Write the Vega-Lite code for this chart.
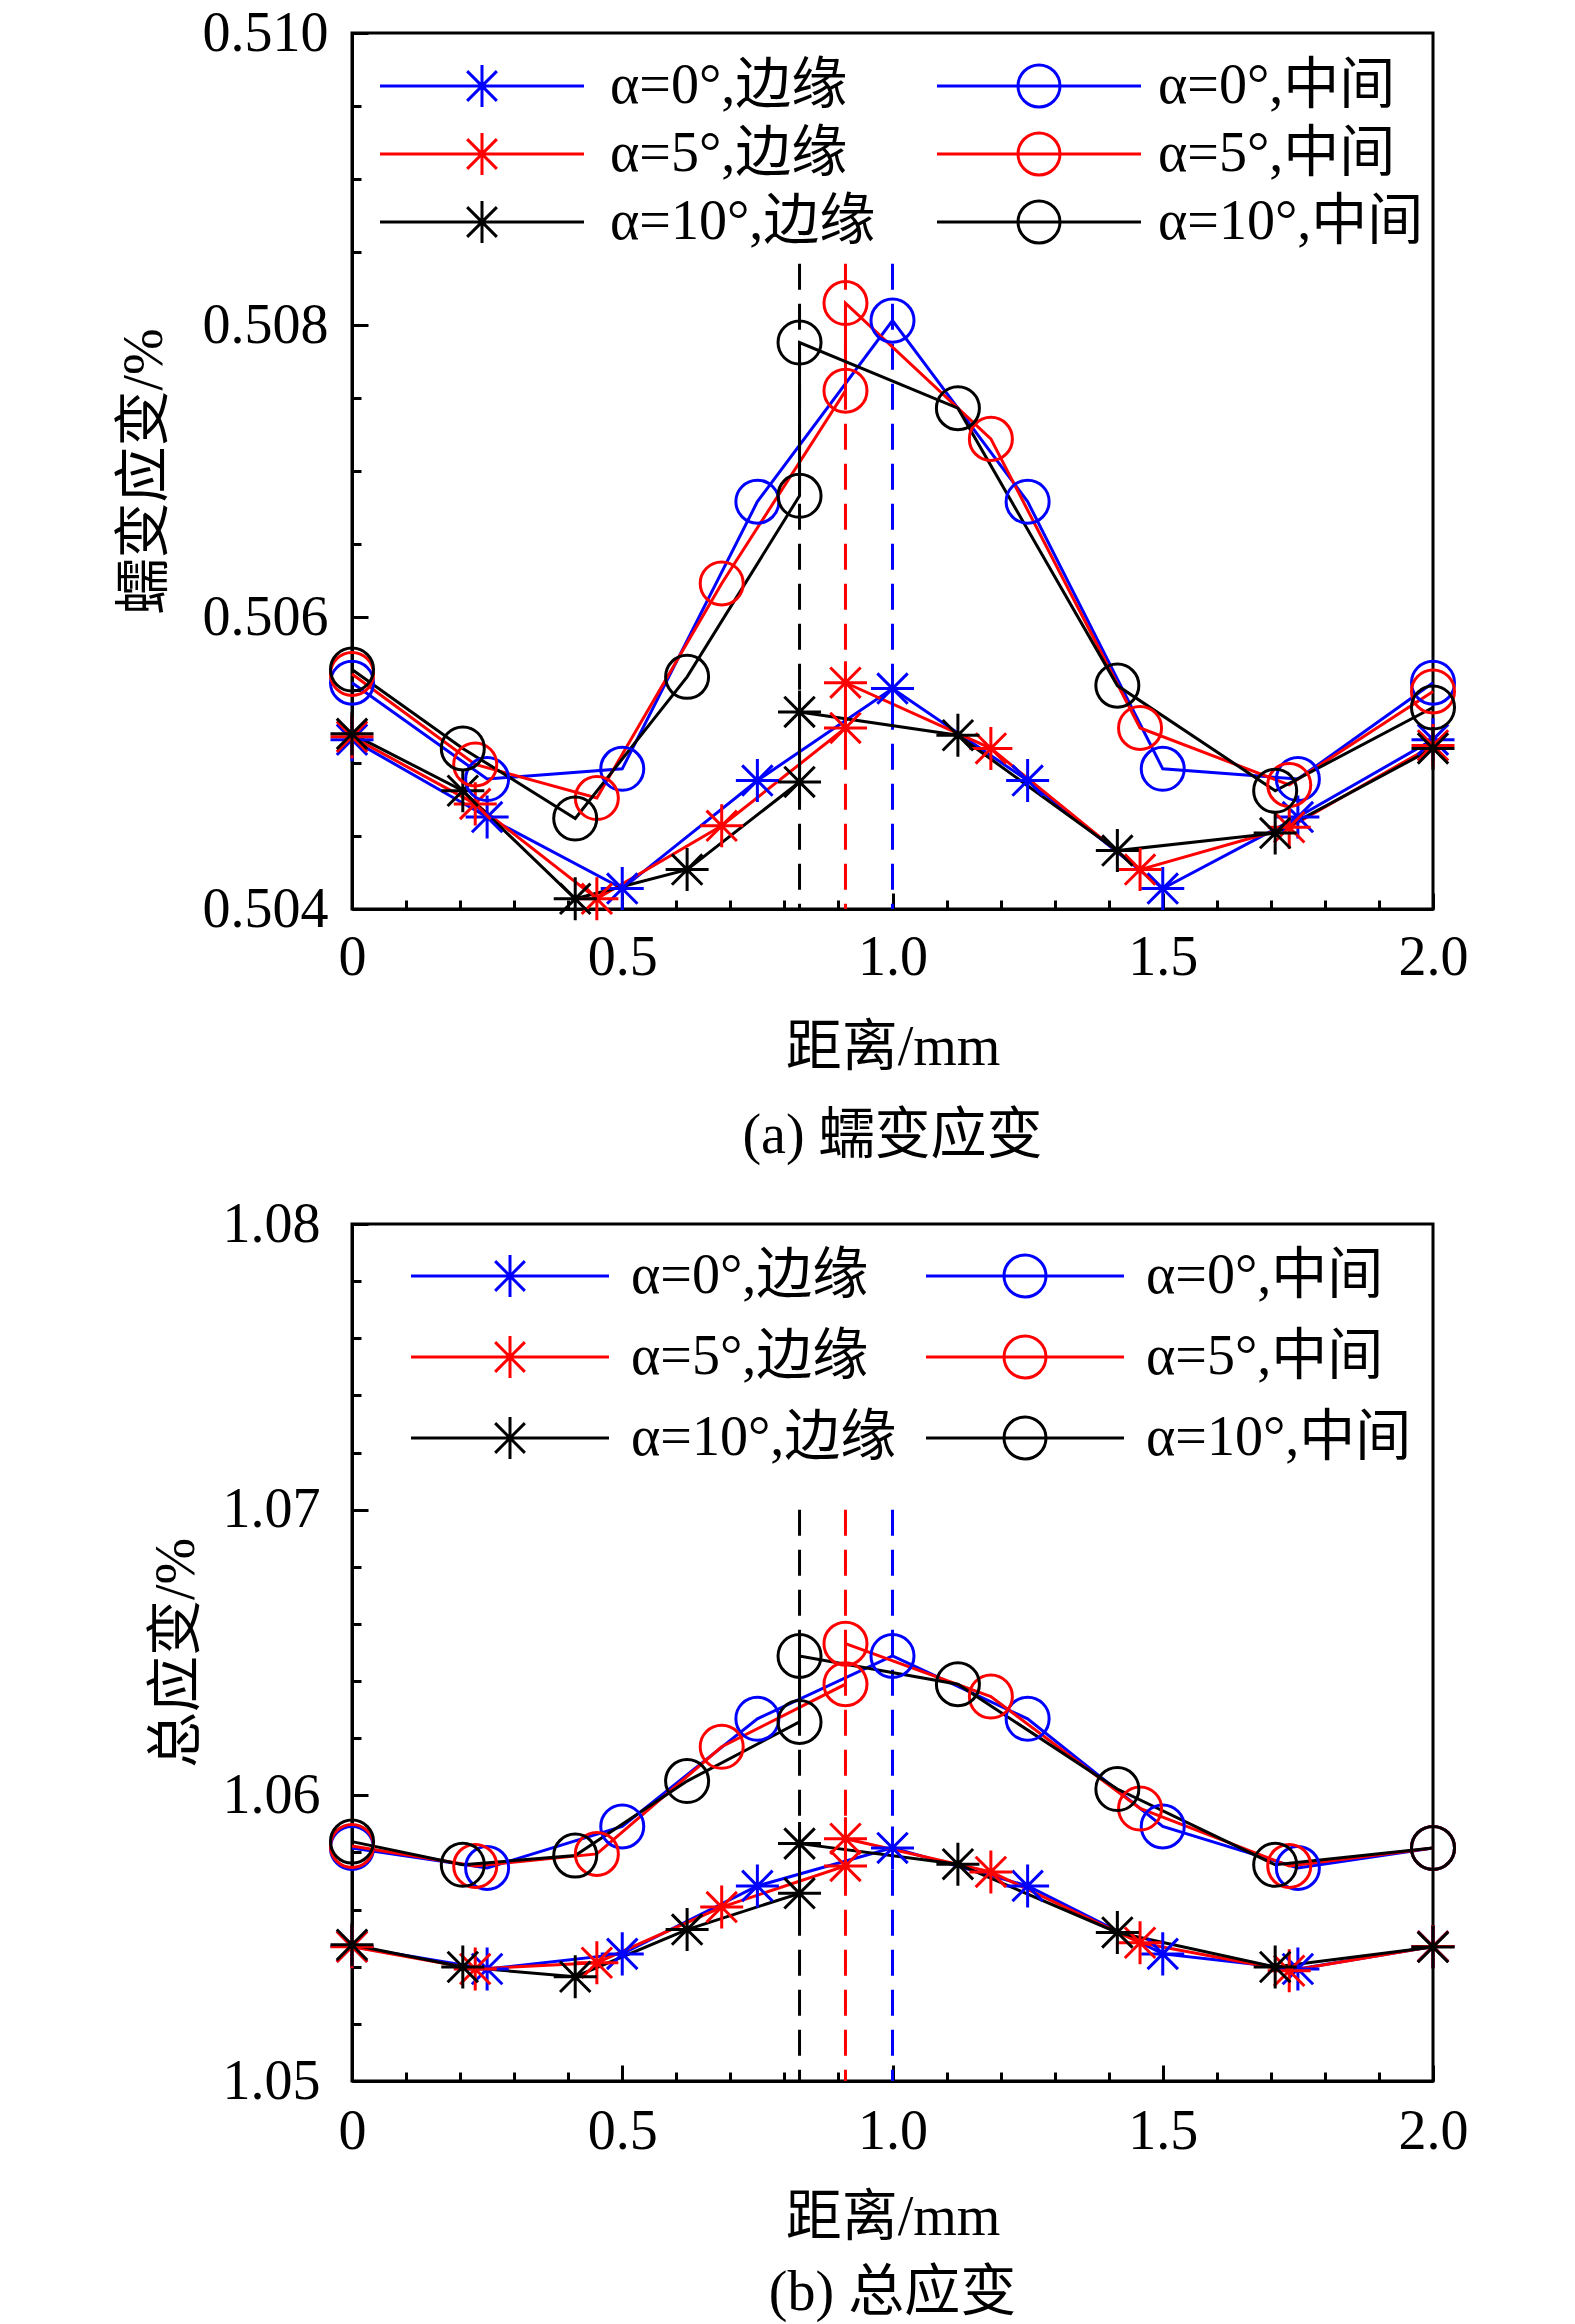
{
  "$schema": "https://vega.github.io/schema/vega-lite/v6.json",
  "background": "white",
  "padding": {"left": 114, "top": 3, "right": 30, "bottom": 0},
  "config": {
    "font": "Liberation Serif, Noto Sans CJK SC",
    "view": {"stroke": "black", "strokeWidth": 3},
    "axis": {
      "grid": false,
      "labelFont": "Liberation Serif",
      "labelFontSize": 56,
      "labelColor": "black",
      "labelFlush": false,
      "labelOverlap": false,
      "titleFont": "Liberation Serif, Noto Sans CJK SC",
      "titleFontSize": 56,
      "titleFontWeight": "normal",
      "titleColor": "black",
      "domainColor": "black",
      "domainWidth": 3,
      "tickColor": "black",
      "tickWidth": 3
    },
    "legend": {
      "labelFont": "Liberation Serif, Noto Sans CJK SC",
      "labelFontSize": 56,
      "labelColor": "black",
      "labelLimit": 0,
      "symbolStrokeWidth": 3,
      "symbolFillColor": "transparent",
      "symbolSize": 1764
    },
    "title": {
      "font": "Liberation Serif, Noto Sans CJK SC",
      "fontSize": 56,
      "fontWeight": "normal",
      "color": "black",
      "anchor": "middle"
    }
  },
  "datasets": {
    "creep": [
      {"series": "α=0°,边缘", "i": 0, "x": 0, "y": 0.50516},
      {"series": "α=0°,边缘", "i": 1, "x": 0.25, "y": 0.50463},
      {"series": "α=0°,边缘", "i": 2, "x": 0.5, "y": 0.50414},
      {"series": "α=0°,边缘", "i": 3, "x": 0.75, "y": 0.50488},
      {"series": "α=0°,边缘", "i": 4, "x": 1.0, "y": 0.50551},
      {"series": "α=0°,边缘", "i": 5, "x": 1.25, "y": 0.50488},
      {"series": "α=0°,边缘", "i": 6, "x": 1.5, "y": 0.50414},
      {"series": "α=0°,边缘", "i": 7, "x": 1.75, "y": 0.50463},
      {"series": "α=0°,边缘", "i": 8, "x": 2.0, "y": 0.50516},
      {"series": "α=0°,中间", "i": 0, "x": 0, "y": 0.50555},
      {"series": "α=0°,中间", "i": 1, "x": 0.25, "y": 0.50489},
      {"series": "α=0°,中间", "i": 2, "x": 0.5, "y": 0.50496},
      {"series": "α=0°,中间", "i": 3, "x": 0.75, "y": 0.50679},
      {"series": "α=0°,中间", "i": 4, "x": 1.0, "y": 0.50803},
      {"series": "α=0°,中间", "i": 5, "x": 1.25, "y": 0.50679},
      {"series": "α=0°,中间", "i": 6, "x": 1.5, "y": 0.50496},
      {"series": "α=0°,中间", "i": 7, "x": 1.75, "y": 0.50489},
      {"series": "α=0°,中间", "i": 8, "x": 2.0, "y": 0.50555},
      {"series": "α=5°,边缘", "i": 0, "x": 0, "y": 0.50518},
      {"series": "α=5°,边缘", "i": 1, "x": 0.228, "y": 0.50472},
      {"series": "α=5°,边缘", "i": 2, "x": 0.453, "y": 0.50407},
      {"series": "α=5°,边缘", "i": 3, "x": 0.684, "y": 0.50457},
      {"series": "α=5°,边缘", "i": 4, "x": 0.913, "y": 0.50524},
      {"series": "α=5°,边缘", "i": 5, "x": 0.913, "y": 0.50555},
      {"series": "α=5°,边缘", "i": 6, "x": 1.182, "y": 0.50510},
      {"series": "α=5°,边缘", "i": 7, "x": 1.458, "y": 0.50427},
      {"series": "α=5°,边缘", "i": 8, "x": 1.734, "y": 0.50456},
      {"series": "α=5°,边缘", "i": 9, "x": 2.0, "y": 0.50512},
      {"series": "α=5°,中间", "i": 0, "x": 0, "y": 0.50561},
      {"series": "α=5°,中间", "i": 1, "x": 0.228, "y": 0.50499},
      {"series": "α=5°,中间", "i": 2, "x": 0.453, "y": 0.50476},
      {"series": "α=5°,中间", "i": 3, "x": 0.684, "y": 0.50623},
      {"series": "α=5°,中间", "i": 4, "x": 0.913, "y": 0.50755},
      {"series": "α=5°,中间", "i": 5, "x": 0.913, "y": 0.50815},
      {"series": "α=5°,中间", "i": 6, "x": 1.182, "y": 0.50722},
      {"series": "α=5°,中间", "i": 7, "x": 1.458, "y": 0.50524},
      {"series": "α=5°,中间", "i": 8, "x": 1.734, "y": 0.50485},
      {"series": "α=5°,中间", "i": 9, "x": 2.0, "y": 0.50549},
      {"series": "α=10°,边缘", "i": 0, "x": 0, "y": 0.50520},
      {"series": "α=10°,边缘", "i": 1, "x": 0.205, "y": 0.50481},
      {"series": "α=10°,边缘", "i": 2, "x": 0.413, "y": 0.50407},
      {"series": "α=10°,边缘", "i": 3, "x": 0.62, "y": 0.50427},
      {"series": "α=10°,边缘", "i": 4, "x": 0.828, "y": 0.50487},
      {"series": "α=10°,边缘", "i": 5, "x": 0.828, "y": 0.50535},
      {"series": "α=10°,边缘", "i": 6, "x": 1.121, "y": 0.50519},
      {"series": "α=10°,边缘", "i": 7, "x": 1.416, "y": 0.50440},
      {"series": "α=10°,边缘", "i": 8, "x": 1.708, "y": 0.50452},
      {"series": "α=10°,边缘", "i": 9, "x": 2.0, "y": 0.50510},
      {"series": "α=10°,中间", "i": 0, "x": 0, "y": 0.50564},
      {"series": "α=10°,中间", "i": 1, "x": 0.205, "y": 0.50510},
      {"series": "α=10°,中间", "i": 2, "x": 0.413, "y": 0.50462},
      {"series": "α=10°,中间", "i": 3, "x": 0.62, "y": 0.50559},
      {"series": "α=10°,中间", "i": 4, "x": 0.828, "y": 0.50683},
      {"series": "α=10°,中间", "i": 5, "x": 0.828, "y": 0.50788},
      {"series": "α=10°,中间", "i": 6, "x": 1.121, "y": 0.50743},
      {"series": "α=10°,中间", "i": 7, "x": 1.416, "y": 0.50553},
      {"series": "α=10°,中间", "i": 8, "x": 1.708, "y": 0.50481},
      {"series": "α=10°,中间", "i": 9, "x": 2.0, "y": 0.50538}
    ],
    "total": [
      {"series": "α=0°,边缘", "i": 0, "x": 0, "y": 1.05471},
      {"series": "α=0°,边缘", "i": 1, "x": 0.25, "y": 1.05392},
      {"series": "α=0°,边缘", "i": 2, "x": 0.5, "y": 1.05445},
      {"series": "α=0°,边缘", "i": 3, "x": 0.75, "y": 1.05683},
      {"series": "α=0°,边缘", "i": 4, "x": 1.0, "y": 1.05816},
      {"series": "α=0°,边缘", "i": 5, "x": 1.25, "y": 1.05683},
      {"series": "α=0°,边缘", "i": 6, "x": 1.5, "y": 1.05445},
      {"series": "α=0°,边缘", "i": 7, "x": 1.75, "y": 1.05392},
      {"series": "α=0°,边缘", "i": 8, "x": 2.0, "y": 1.05471},
      {"series": "α=0°,中间", "i": 0, "x": 0, "y": 1.05816},
      {"series": "α=0°,中间", "i": 1, "x": 0.25, "y": 1.05746},
      {"series": "α=0°,中间", "i": 2, "x": 0.5, "y": 1.05891},
      {"series": "α=0°,中间", "i": 3, "x": 0.75, "y": 1.06268},
      {"series": "α=0°,中间", "i": 4, "x": 1.0, "y": 1.06488},
      {"series": "α=0°,中间", "i": 5, "x": 1.25, "y": 1.06268},
      {"series": "α=0°,中间", "i": 6, "x": 1.5, "y": 1.05891},
      {"series": "α=0°,中间", "i": 7, "x": 1.75, "y": 1.05746},
      {"series": "α=0°,中间", "i": 8, "x": 2.0, "y": 1.05816},
      {"series": "α=5°,边缘", "i": 0, "x": 0, "y": 1.05470},
      {"series": "α=5°,边缘", "i": 1, "x": 0.228, "y": 1.05392},
      {"series": "α=5°,边缘", "i": 2, "x": 0.453, "y": 1.05414},
      {"series": "α=5°,边缘", "i": 3, "x": 0.684, "y": 1.05609},
      {"series": "α=5°,边缘", "i": 4, "x": 0.913, "y": 1.05753},
      {"series": "α=5°,边缘", "i": 5, "x": 0.913, "y": 1.05848},
      {"series": "α=5°,边缘", "i": 6, "x": 1.182, "y": 1.05732},
      {"series": "α=5°,边缘", "i": 7, "x": 1.458, "y": 1.05484},
      {"series": "α=5°,边缘", "i": 8, "x": 1.734, "y": 1.05386},
      {"series": "α=5°,边缘", "i": 9, "x": 2.0, "y": 1.05471},
      {"series": "α=5°,中间", "i": 0, "x": 0, "y": 1.05823},
      {"series": "α=5°,中间", "i": 1, "x": 0.228, "y": 1.05753},
      {"series": "α=5°,中间", "i": 2, "x": 0.453, "y": 1.05795},
      {"series": "α=5°,中间", "i": 3, "x": 0.684, "y": 1.06170},
      {"series": "α=5°,中间", "i": 4, "x": 0.913, "y": 1.06389},
      {"series": "α=5°,中间", "i": 5, "x": 0.913, "y": 1.06531},
      {"series": "α=5°,中间", "i": 6, "x": 1.182, "y": 1.06346},
      {"series": "α=5°,中间", "i": 7, "x": 1.458, "y": 1.05954},
      {"series": "α=5°,中间", "i": 8, "x": 1.734, "y": 1.05753},
      {"series": "α=5°,中间", "i": 9, "x": 2.0, "y": 1.05816},
      {"series": "α=10°,边缘", "i": 0, "x": 0, "y": 1.05477},
      {"series": "α=10°,边缘", "i": 1, "x": 0.205, "y": 1.05399},
      {"series": "α=10°,边缘", "i": 2, "x": 0.413, "y": 1.05365},
      {"series": "α=10°,边缘", "i": 3, "x": 0.62, "y": 1.05530},
      {"series": "α=10°,边缘", "i": 4, "x": 0.828, "y": 1.05657},
      {"series": "α=10°,边缘", "i": 5, "x": 0.828, "y": 1.05831},
      {"series": "α=10°,边缘", "i": 6, "x": 1.121, "y": 1.05759},
      {"series": "α=10°,边缘", "i": 7, "x": 1.416, "y": 1.05520},
      {"series": "α=10°,边缘", "i": 8, "x": 1.708, "y": 1.05399},
      {"series": "α=10°,边缘", "i": 9, "x": 2.0, "y": 1.05469},
      {"series": "α=10°,中间", "i": 0, "x": 0, "y": 1.05838},
      {"series": "α=10°,中间", "i": 1, "x": 0.205, "y": 1.05757},
      {"series": "α=10°,中间", "i": 2, "x": 0.413, "y": 1.05789},
      {"series": "α=10°,中间", "i": 3, "x": 0.62, "y": 1.06050},
      {"series": "α=10°,中间", "i": 4, "x": 0.828, "y": 1.06257},
      {"series": "α=10°,中间", "i": 5, "x": 0.828, "y": 1.06488},
      {"series": "α=10°,中间", "i": 6, "x": 1.121, "y": 1.06389},
      {"series": "α=10°,中间", "i": 7, "x": 1.416, "y": 1.06022},
      {"series": "α=10°,中间", "i": 8, "x": 1.708, "y": 1.05757},
      {"series": "α=10°,中间", "i": 9, "x": 2.0, "y": 1.05816}
    ],
    "peaksA": [
      {"series": "α=10°,中间", "x": 0.828, "y": 0.50842, "y2": 0.504},
      {"series": "α=5°,中间", "x": 0.913, "y": 0.50842, "y2": 0.504},
      {"series": "α=0°,中间", "x": 1.0, "y": 0.50842, "y2": 0.504}
    ],
    "peaksB": [
      {"series": "α=10°,中间", "x": 0.828, "y": 1.07, "y2": 1.05},
      {"series": "α=5°,中间", "x": 0.913, "y": 1.07, "y2": 1.05},
      {"series": "α=0°,中间", "x": 1.0, "y": 1.07, "y2": 1.05}
    ]
  },
  "spacing": 28,
  "resolve": {
    "scale": {"color": "independent", "x": "independent", "y": "independent"},
    "legend": {"color": "independent"}
  },
  "vconcat": [
    {
      "width": 1081,
      "height": 876,
      "title": {"text": "(a) 蠕变应变", "orient": "bottom", "offset": 34},
      "encoding": {
        "x": {
          "field": "x",
          "type": "quantitative",
          "scale": {"domain": [0, 2], "nice": false, "zero": false},
          "axis": {
            "title": "距离/mm",
            "values": [0, 0.1, 0.2, 0.3, 0.4, 0.5, 0.6, 0.7, 0.8, 0.9, 1.0, 1.1, 1.2, 1.3, 1.4, 1.5, 1.6, 1.7, 1.8, 1.9, 2.0],
            "labelExpr": "round(datum.value*10)%5==0 ? (datum.value==0 ? '0' : format(datum.value,'.1f')) : ''",
            "tickSize": {"condition": {"test": "round(datum.value*10)%5==0", "value": -16}, "value": -9},
            "labelPadding": 37,
            "titlePadding": 28
          }
        },
        "y": {
          "field": "y",
          "type": "quantitative",
          "scale": {"domain": [0.504, 0.51], "nice": false, "zero": false},
          "axis": {
            "title": "蠕变应变/%",
            "values": [0.504, 0.5045, 0.505, 0.5055, 0.506, 0.5065, 0.507, 0.5075, 0.508, 0.5085, 0.509, 0.5095, 0.51],
            "labelExpr": "round(datum.value*2000)%4==0 ? format(datum.value,'.3f') : ''",
            "tickSize": {"condition": {"test": "round(datum.value*2000)%4==0", "value": -16}, "value": -9},
            "labelPadding": 40,
            "titlePadding": 29
          }
        },
        "color": {
          "field": "series",
          "type": "nominal",
          "scale": {
            "domain": ["α=0°,边缘", "α=5°,边缘", "α=10°,边缘", "α=0°,中间", "α=5°,中间", "α=10°,中间"],
            "range": ["#0000ff", "#ff0000", "#000000", "#0000ff", "#ff0000", "#000000"]
          },
          "legend": {
            "title": null,
            "orient": "none",
            "legendX": 102,
            "legendY": 25,
            "columns": 2,
            "labelOffset": 100,
            "columnPadding": 55,
            "rowPadding": 12,
            "encode": {
              "symbols": {
                "update": {
                  "fill": {"value": "transparent"},
                  "shape": {"signal": "indexof(datum.value,'边缘')>=0 ? 'M-4.857,0H4.857M0,-1V1M-0.707,-0.707L0.707,0.707M-0.707,0.707L0.707,-0.707' : 'M-4.857,0H4.857M1,0A1,1,0,1,1,-1,0A1,1,0,1,1,1,0'"}
                }
              },
              "labels": {
                "update": {
                  "dx": {"signal": "indexof(datum.value,'中间')>=0 ? -9 : 0"}
                }
              }
            }
          }
        }
      },
      "layer": [
        {
          "data": {"name": "peaksA"},
          "mark": {"type": "rule", "strokeDash": [26, 14], "strokeWidth": 3},
          "encoding": {"y2": {"field": "y2"}}
        },
        {
          "data": {"name": "creep"},
          "mark": {"type": "line", "strokeWidth": 3},
          "encoding": {"order": {"field": "i", "type": "quantitative"}}
        },
        {
          "data": {"name": "creep"},
          "transform": [{"filter": "indexof(datum.series,'边缘')>=0"}],
          "mark": {"type": "point", "filled": false, "strokeWidth": 3, "opacity": 1, "size": 1850,
                   "shape": "M0,-1V1M-1,0H1M-0.707,-0.707L0.707,0.707M-0.707,0.707L0.707,-0.707"}
        },
        {
          "data": {"name": "creep"},
          "transform": [{"filter": "indexof(datum.series,'中间')>=0"}],
          "mark": {"type": "point", "filled": false, "strokeWidth": 3, "opacity": 1, "size": 1850, "shape": "circle"}
        }
      ]
    },
    {
      "width": 1081,
      "height": 857,
      "title": {"text": "(b) 总应变", "orient": "bottom", "offset": 21},
      "encoding": {
        "x": {
          "field": "x",
          "type": "quantitative",
          "scale": {"domain": [0, 2], "nice": false, "zero": false},
          "axis": {
            "title": "距离/mm",
            "values": [0, 0.1, 0.2, 0.3, 0.4, 0.5, 0.6, 0.7, 0.8, 0.9, 1.0, 1.1, 1.2, 1.3, 1.4, 1.5, 1.6, 1.7, 1.8, 1.9, 2.0],
            "labelExpr": "round(datum.value*10)%5==0 ? (datum.value==0 ? '0' : format(datum.value,'.1f')) : ''",
            "tickSize": {"condition": {"test": "round(datum.value*10)%5==0", "value": -16}, "value": -9},
            "labelPadding": 39,
            "titlePadding": 24
          }
        },
        "y": {
          "field": "y",
          "type": "quantitative",
          "scale": {"domain": [1.05, 1.08], "nice": false, "zero": false},
          "axis": {
            "title": "总应变/%",
            "values": [1.05, 1.052, 1.054, 1.056, 1.058, 1.06, 1.062, 1.064, 1.066, 1.068, 1.07, 1.072, 1.074, 1.076, 1.078, 1.08],
            "labelExpr": "round(datum.value*500)%5==0 ? format(datum.value,'.2f') : ''",
            "tickSize": {"condition": {"test": "round(datum.value*500)%5==0", "value": -16}, "value": -9},
            "labelPadding": 48,
            "titlePadding": 17
          }
        },
        "color": {
          "field": "series",
          "type": "nominal",
          "scale": {
            "domain": ["α=0°,边缘", "α=5°,边缘", "α=10°,边缘", "α=0°,中间", "α=5°,中间", "α=10°,中间"],
            "range": ["#0000ff", "#ff0000", "#000000", "#0000ff", "#ff0000", "#000000"]
          },
          "legend": {
            "title": null,
            "orient": "none",
            "legendX": 130,
            "legendY": 24,
            "columns": 2,
            "labelOffset": 93,
            "columnPadding": 23,
            "rowPadding": 25,
            "encode": {
              "symbols": {
                "update": {
                  "fill": {"value": "transparent"},
                  "shape": {"signal": "indexof(datum.value,'边缘')>=0 ? 'M-4.714,0H4.714M0,-1V1M-0.707,-0.707L0.707,0.707M-0.707,0.707L0.707,-0.707' : 'M-4.714,0H4.714M1,0A1,1,0,1,1,-1,0A1,1,0,1,1,1,0'"}
                }
              }
            }
          }
        }
      },
      "layer": [
        {
          "data": {"name": "peaksB"},
          "mark": {"type": "rule", "strokeDash": [26, 14], "strokeWidth": 3},
          "encoding": {"y2": {"field": "y2"}}
        },
        {
          "data": {"name": "total"},
          "mark": {"type": "line", "strokeWidth": 3},
          "encoding": {"order": {"field": "i", "type": "quantitative"}}
        },
        {
          "data": {"name": "total"},
          "transform": [{"filter": "indexof(datum.series,'边缘')>=0"}],
          "mark": {"type": "point", "filled": false, "strokeWidth": 3, "opacity": 1, "size": 1850,
                   "shape": "M0,-1V1M-1,0H1M-0.707,-0.707L0.707,0.707M-0.707,0.707L0.707,-0.707"}
        },
        {
          "data": {"name": "total"},
          "transform": [{"filter": "indexof(datum.series,'中间')>=0"}],
          "mark": {"type": "point", "filled": false, "strokeWidth": 3, "opacity": 1, "size": 1850, "shape": "circle"}
        }
      ]
    }
  ]
}
